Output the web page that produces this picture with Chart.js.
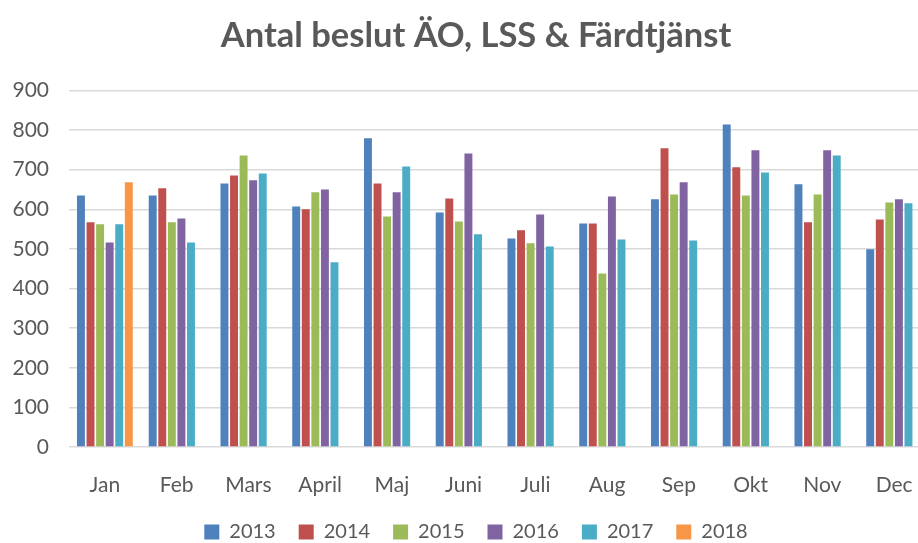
<!DOCTYPE html>
<html><head><meta charset="utf-8">
<script src="https://cdn.jsdelivr.net/npm/chart.js@4"></script>
<style>
html,body{margin:0;padding:0;background:#fff;overflow:hidden;width:918px;height:543px;}
#wrap{width:952px;height:543px;position:relative;}
</style></head>
<body><div id="wrap"><canvas id="c" width="952" height="543"></canvas></div>
<script>
const categories = ["Jan","Feb","Mars","April","Maj","Juni","Juli","Aug","Sep","Okt","Nov","Dec"];
const years = ["2013","2014","2015","2016","2017","2018"];
const s2013 = [635,635,665,607,779,592,526,564,625,814,663,499];
const s2014 = [567,653,685,600,665,627,547,564,754,706,567,574];
const s2015 = [562,567,736,643,582,569,514,438,637,635,637,617];
const s2016 = [516,577,673,650,643,741,587,632,668,749,749,625];
const s2017 = [562,516,690,466,708,537,506,524,521,693,736,615];
const s2018 = [668,null,null,null,null,null,null,null,null,null,null,null];
const yTicks = [0,100,200,300,400,500,600,700,800,900];
const colors = ["#4F81BD","#C0504D","#9BBB59","#8064A2","#4BACC6","#F79646"];
const seriesList = [s2013,s2014,s2015,s2016,s2017,s2018];
const FONT = "Lato, 'Open Sans', sans-serif";
new Chart(document.getElementById('c'), {
  type: 'bar',
  data: {
    labels: categories,
    datasets: seriesList.map((d,i)=>({label: years[i], data: d, backgroundColor: colors[i], borderWidth: 0,
      categoryPercentage: 0.8, barPercentage: 0.83}))
  },
  options: {
    responsive: false, animation: false,
    layout: {padding: {left: 0, right: 0, top: 9, bottom: -9}},
    plugins: {
      title: {display: true, text: "Antal beslut ÄO, LSS & Färdtjänst", color: "#595959",
        font: {family: FONT, size: 34.5, weight: 'bold'}, padding: {top: 6, bottom: 34}},
      legend: {position: 'bottom', labels: {color: "#595959", font: {family: FONT, size: 20},
        boxWidth: 15, boxHeight: 15, padding: 23}},
      tooltip: {enabled: false}
    },
    scales: {
      x: {grid: {display: false, drawTicks: false}, border: {display: false},
        afterFit: (s)=>{ s.height = 52; },
        ticks: {color: "#595959", font: {family: FONT, size: 21}, padding: 26}},
      y: {min: 0, max: 900, afterBuildTicks: (s)=>{ s.ticks = yTicks.map(v=>({value:v})); },
        afterFit: (s)=>{ s.width = 69; },
        grid: {color: "#D9D9D9", lineWidth: 1.5, drawTicks: false}, border: {display: false},
        ticks: {color: "#595959", font: {family: FONT, size: 21}, padding: 20}},
      yRight: {position: 'right', min: 0, max: 900, afterFit: (s)=>{ s.width = 22; },
        grid: {display: false, drawTicks: false}, border: {display: false},
        ticks: {display: false}}
    }
  }
});
</script></body></html>
